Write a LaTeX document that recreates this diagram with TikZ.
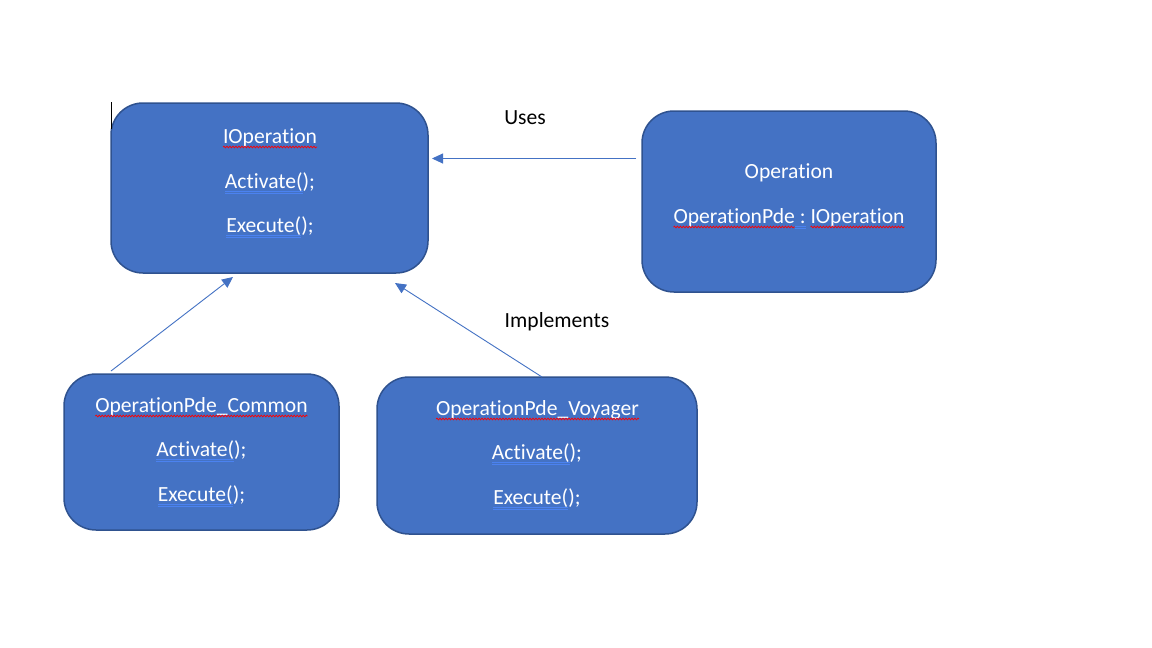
\documentclass[tikz,border=0pt]{standalone}
\usepackage{fontspec}
\setmainfont{Carlito}[Ligatures=NoCommon]
\usetikzlibrary{arrows.meta,decorations.pathmorphing}
\definecolor{boxfill}{HTML}{4472C4}
\definecolor{boxdraw}{HTML}{2F528F}
\definecolor{sqblue}{RGB}{75,130,240}
\tikzset{
  redsq/.style={draw=red, line width=0.7pt, decorate, decoration={snake, amplitude=0.9pt, segment length=3pt}},
}
\newsavebox\sqbox
\newlength\sqlen
\newcommand\fntsz{\fontsize{21.6}{26}\selectfont}
% red wavy underline (spell check mark)
\newcommand\rsq[1]{\sbox\sqbox{#1}\setlength\sqlen{\wd\sqbox}%
  \rlap{\usebox\sqbox}\tikz[baseline=0pt]{\useasboundingbox (0pt,0pt) rectangle (\sqlen,1pt);
  \draw[redsq] (0pt,-4pt) -- (\sqlen,-4pt);}}
% blue double underline (grammar mark)
\newcommand\bdu[1]{\sbox\sqbox{#1}\setlength\sqlen{\wd\sqbox}%
  \rlap{\usebox\sqbox}{\color{sqblue}\rlap{\rule[-3.4pt]{\sqlen}{0.6pt}}\rule[-5.4pt]{\sqlen}{0.6pt}}}
\begin{document}
\begin{tikzpicture}[x=1pt,y=-1pt,
  box/.style={draw=boxdraw, line width=1.5pt, fill=boxfill, rounded corners=32pt, inner sep=0},
  lbl/.style={font=\fntsz, text=white, inner sep=0, anchor=base},
  note/.style={font=\fntsz, text=black, inner sep=0, anchor=base},
  conn/.style={draw=boxfill, line width=0.9pt, -{Triangle[length=11pt,width=10pt]}}
]
\useasboundingbox[fill=white] (0,0) rectangle (1152,648);

% boxes
\node[box, minimum width=317pt, minimum height=170pt] (iop) at (269.5,188) {};
\node[box, minimum width=294pt, minimum height=181pt] (op) at (789,201.5) {};
\node[box, minimum width=275pt, minimum height=156pt] (com) at (201.5,452) {};
\node[box, minimum width=320pt, minimum height=157pt] (voy) at (537,455.5) {};

% texts IOperation
\node[lbl] (t1) at (270,143) {\rsq{IOperation}};
\node[lbl] (t2) at (270,188) {\bdu{Activate(});};
\node[lbl] (t3) at (270,232) {\bdu{Execute(});};

% texts Operation
\node[lbl] (o1) at (789,178) {Operation};
\node[lbl] (o2) at (789,223) {\rsq{OperationPde}\bdu{ :} \rsq{IOperation}};

% texts Common
\node[lbl] (c1) at (201.5,412) {\rsq{OperationPde\_Common}};
\node[lbl] (c2) at (201.5,456) {\bdu{Activate(});};
\node[lbl] (c3) at (201.5,501) {\bdu{Execute(});};

% texts Voyager
\node[lbl] (v1) at (537.5,415) {\rsq{OperationPde\_Voyager}};
\node[lbl] (v2) at (537,459) {\bdu{Activate(});};
\node[lbl] (v3) at (537,504) {\bdu{Execute(});};

% labels
\node[note] (uses) at (525,124) {Uses};
\node[note] (impl) at (557,327) {Implements};

% connectors
\coordinate (u1) at (636,158.5);
\coordinate (u2) at (432,158.5);
\coordinate (a1) at (111,371);
\coordinate (a2) at (233,277);
\coordinate (b1) at (542,377);
\coordinate (b2) at (395,283);
\draw[conn] (u1) -- (u2);
\draw[conn] (a1) -- (a2);
\draw[conn] (b1) -- (b2);

% text cursor
\coordinate (k1) at (111,102);
\coordinate (k2) at (111,129);
\draw[black, line width=1pt] (k1) -- (k2);
\end{tikzpicture}
\end{document}
